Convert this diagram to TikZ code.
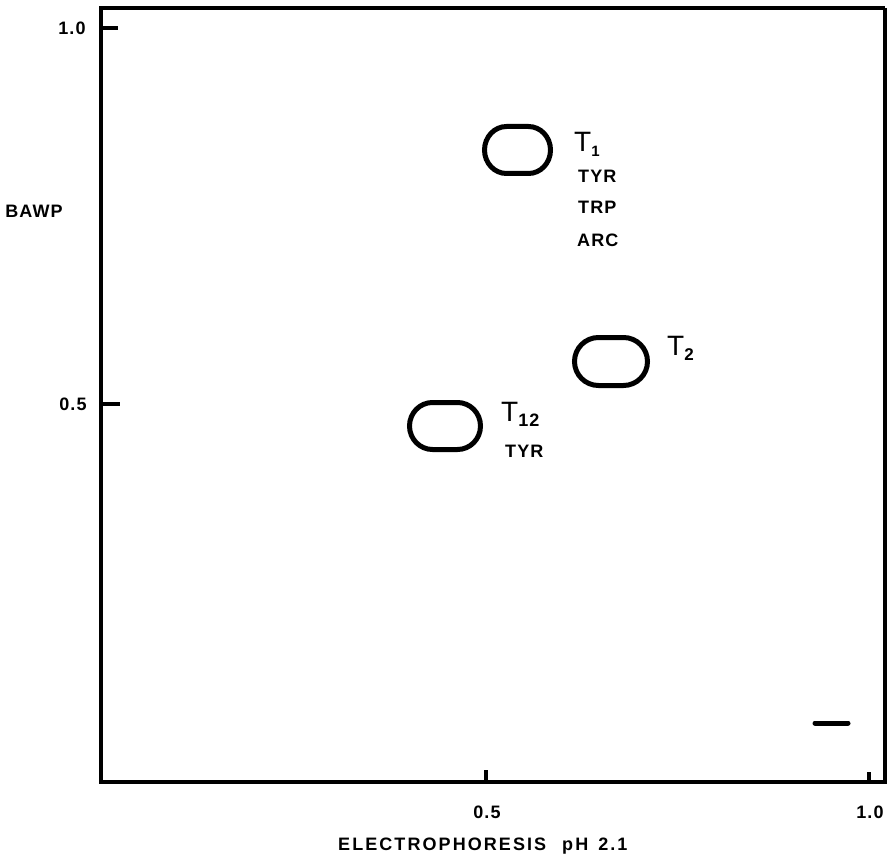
\documentclass[tikz,border=0pt]{standalone}
\usepackage{fontspec}
\setmainfont{Liberation Sans}
\newfontfamily\lab[LetterSpace=6.0]{Liberation Sans Bold}
\newfontfamily\labw[LetterSpace=11.5]{Liberation Sans Bold}
\newfontfamily\tfont{Liberation Sans}
\newcommand\spotpath[3]{% node name, x radius, y radius
  \draw[spotline] ([xshift=#2]#1.north west) -- ([xshift=-#2]#1.north east)
    arc[start angle=90,end angle=-90,x radius=#2,y radius=#3]
    -- ([xshift=#2]#1.south west)
    arc[start angle=270,end angle=90,x radius=#2,y radius=#3] -- cycle;}
\begin{document}
\begin{tikzpicture}[x=1pt,y=-1pt,
  frame/.style={line width=4pt},
  tick/.style={line width=3.5pt},
  spot/.style={inner sep=0pt,outer sep=0pt},
  spotline/.style={line width=5pt},
  lbl/.style={inner sep=0pt,font=\lab\fontsize{18}{18}\selectfont},
  tl/.style={inner sep=0pt,anchor=west,font=\tfont\fontsize{28}{28}\selectfont}]
\useasboundingbox (0,0) rectangle (888,861);
\coordinate (tl) at (101,8);
\coordinate (tr) at (885,8);
\coordinate (br) at (885,782);
\coordinate (bl) at (101,782);
\draw[frame] (tr) -- (tl) -- (bl) -- (br) -- (tr);
% y ticks
\coordinate (y10) at (101,28);
\coordinate (y10e) at (118,28);
\coordinate (y05) at (101,404);
\coordinate (y05e) at (120,404);
\draw[tick] (y10) -- (y10e);
\draw[tick] (y05) -- (y05e);
% x ticks
\coordinate (x05) at (486,782);
\coordinate (x05e) at (486,770);
\coordinate (x10) at (869,782);
\coordinate (x10e) at (869,772);
\draw[tick] (x05) -- (x05e);
\draw[tick] (x10) -- (x10e);
% labels
\node[lbl] (l1) at (72,28) {1.0};
\node[lbl] (l2) at (73,404) {0.5};
\node[lbl] (bawp) at (34,211) {BAWP};
\node[lbl] (l3) at (487,812) {0.5};
\node[lbl] (l4) at (870,812) {1.0};
\node[lbl,anchor=west,font=\labw\fontsize{18}{18}\selectfont] (xl) at (338,846) {ELECTROPHORESIS\hspace{16pt}pH\hspace{10pt}2.1};
% spots
\node[spot,minimum width=66pt,minimum height=47pt] (s1) at (517.5,150) {};
\node[spot,minimum width=73pt,minimum height=48pt] (s2) at (611,361.5) {};
\node[spot,minimum width=71pt,minimum height=47pt] (s3) at (445,426) {};
\spotpath{s1}{22pt}{23.5pt}
\spotpath{s2}{24pt}{24pt}
\spotpath{s3}{23pt}{23.5pt}
% spot labels
\node[tl] (t1) at (574,144) {T\raisebox{-5pt}{\lab\fontsize{15}{15}\selectfont 1}};
\node[lbl,anchor=west] (t1a) at (578,176) {TYR};
\node[lbl,anchor=west] (t1b) at (578,207) {TRP};
\node[lbl,anchor=west] (t1c) at (577,240) {ARC};
\node[tl] (t2) at (667,348) {T\raisebox{-5pt}{\lab\fontsize{17}{17}\selectfont 2}};
\node[tl] (t12) at (501,414) {T\raisebox{-5pt}{\lab\fontsize{18}{18}\selectfont 12}};
\node[lbl,anchor=west] (t12a) at (505,451) {TYR};
% marker dash
\coordinate (m1) at (815,723);
\coordinate (m2) at (848,723);
\draw[line width=5pt,line cap=round] (m1) -- (m2);
\end{tikzpicture}
\end{document}
